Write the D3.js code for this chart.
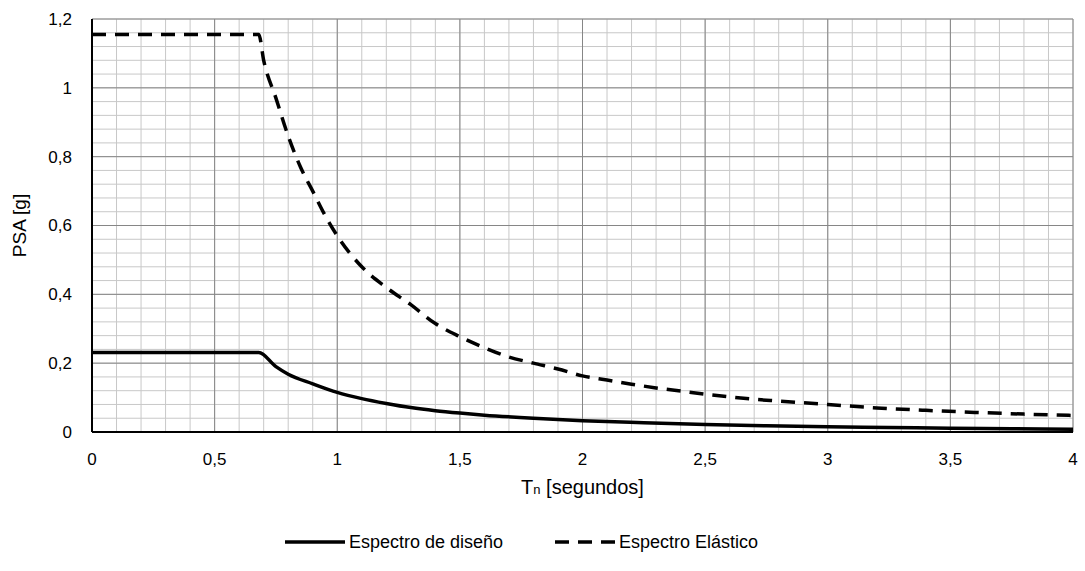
<!DOCTYPE html>
<html>
<head>
<meta charset="utf-8">
<script src="https://cdn.jsdelivr.net/npm/d3@7"></script>
<style>
  body { margin: 0; background: white; }
  text { font-family: "Liberation Sans", Arial, sans-serif; fill: #000; }
</style>
</head>
<body>
<script>

// periods (s) and values
var elastic_T = [0, 0.68, 0.70, 0.75, 0.80, 0.85, 0.90, 0.95, 1.0, 1.1, 1.2, 1.3, 1.4, 1.5, 1.6, 1.7, 1.8, 1.9,
                 2.0, 2.1, 2.2, 2.3, 2.4, 2.5, 2.6, 2.7, 2.8, 2.9, 3.0, 3.2, 3.4, 3.6, 3.8, 4.0];
var elastic_psa = [1.155, 1.155, 1.08, 0.97, 0.86, 0.77, 0.70, 0.63, 0.57, 0.48, 0.42, 0.37, 0.315, 0.277, 0.245, 0.218, 0.200, 0.183,
                   0.163, 0.151, 0.139, 0.128, 0.119, 0.110, 0.102, 0.095, 0.090, 0.085, 0.080, 0.070, 0.063, 0.057, 0.052, 0.048];

var design_T = [0, 0.68, 0.75, 0.80, 0.90, 1.0, 1.1, 1.2, 1.3, 1.4, 1.5, 1.6, 1.8, 2.0, 2.25, 2.5, 2.75, 3.0, 3.25, 3.5, 3.75, 4.0];
var design_psa = [0.231, 0.231, 0.19, 0.168, 0.140, 0.115, 0.097, 0.083, 0.071, 0.062, 0.055, 0.049, 0.040, 0.033, 0.027, 0.022, 0.018, 0.015, 0.013, 0.011, 0.0095, 0.008];

var x_ticks = [0, 0.5, 1, 1.5, 2, 2.5, 3, 3.5, 4];
var y_ticks = [0, 0.2, 0.4, 0.6, 0.8, 1, 1.2];
var series_names = ["Espectro de diseño", "Espectro Elástico"];

var w = 1085, h = 571;
// plot box (note: "top" clashes with window.top, so prefixed names)
var p_left = 92, p_right = 1073, p_top = 19, p_bottom = 432;

var svg = d3.select("body").append("svg").attr("width", w).attr("height", h);

var x = d3.scaleLinear().domain([0, 4]).range([p_left, p_right]);
var y = d3.scaleLinear().domain([0, 1.2]).range([p_bottom, p_top]);

// comma decimals like the original
var fmt = function(d){ return String(d).replace(".", ","); };

// minor grid (0.1 s, 0.04 g)
var minor_x = d3.range(0, 41).map(function(i){ return i/10; });
var minor_y = d3.range(0, 31).map(function(i){ return i*0.04; });

svg.append("g").selectAll("line").data(minor_x).enter().append("line")
   .attr("x1", function(d){ return x(d); }).attr("x2", function(d){ return x(d); })
   .attr("y1", p_top).attr("y2", p_bottom)
   .attr("stroke", "#c8c8c8").attr("stroke-width", 1);
svg.append("g").selectAll("line").data(minor_y).enter().append("line")
   .attr("x1", p_left).attr("x2", p_right)
   .attr("y1", function(d){ return y(d); }).attr("y2", function(d){ return y(d); })
   .attr("stroke", "#c8c8c8").attr("stroke-width", 1);

// major grid
svg.append("g").selectAll("line").data(x_ticks).enter().append("line")
   .attr("x1", function(d){ return x(d); }).attr("x2", function(d){ return x(d); })
   .attr("y1", p_top).attr("y2", p_bottom)
   .attr("stroke", "#868686").attr("stroke-width", 1);
svg.append("g").selectAll("line").data(y_ticks).enter().append("line")
   .attr("x1", p_left).attr("x2", p_right)
   .attr("y1", function(d){ return y(d); }).attr("y2", function(d){ return y(d); })
   .attr("stroke", "#868686").attr("stroke-width", 1);

// axes lines
svg.append("line").attr("x1", p_left).attr("x2", p_left).attr("y1", p_top).attr("y2", p_bottom)
   .attr("stroke", "#000").attr("stroke-width", 2);
svg.append("line").attr("x1", p_left).attr("x2", p_right).attr("y1", p_bottom).attr("y2", p_bottom)
   .attr("stroke", "#000").attr("stroke-width", 2);

// tick labels
svg.append("g").selectAll("text").data(y_ticks).enter().append("text")
   .attr("x", 72).attr("y", function(d){ return y(d); }).attr("dy", "0.35em")
   .attr("text-anchor", "end").attr("font-size", 17).text(fmt);
svg.append("g").selectAll("text").data(x_ticks).enter().append("text")
   .attr("x", function(d){ return x(d); }).attr("y", 459).attr("dy", "0.35em")
   .attr("text-anchor", "middle").attr("font-size", 17).text(fmt);

// axis titles
svg.append("text").attr("transform", "translate(26," + ((p_top + p_bottom)/2) + ") rotate(-90)")
   .attr("text-anchor", "middle").attr("font-size", 19).text("PSA [g]");
var xt = svg.append("text").attr("x", (p_left + p_right)/2).attr("y", 494)
   .attr("text-anchor", "middle").attr("font-size", 20);
xt.append("tspan").text("T");
xt.append("tspan").attr("font-size", 13).text("n");
xt.append("tspan").text(" [segundos]");

// curves
var line = d3.line().x(function(d){ return x(d[0]); }).y(function(d){ return y(d[1]); }).curve(d3.curveMonotoneX);

svg.append("path").datum(d3.zip(design_T, design_psa))
   .attr("d", line).attr("fill", "none").attr("stroke", "#000").attr("stroke-width", 3.5);
svg.append("path").datum(d3.zip(elastic_T, elastic_psa))
   .attr("d", line).attr("fill", "none").attr("stroke", "#000").attr("stroke-width", 3.5)
   .attr("stroke-dasharray", "14,9");

// legend
var leg_y = 542;
svg.append("line").attr("x1", 285).attr("x2", 345).attr("y1", leg_y).attr("y2", leg_y)
   .attr("stroke", "#000").attr("stroke-width", 3.5);
svg.append("text").attr("x", 349).attr("y", leg_y).attr("dy", "0.35em").attr("font-size", 18).text(series_names[0]);
svg.append("line").attr("x1", 555).attr("x2", 615).attr("y1", leg_y).attr("y2", leg_y)
   .attr("stroke", "#000").attr("stroke-width", 3.5).attr("stroke-dasharray", "14,9");
svg.append("text").attr("x", 619).attr("y", leg_y).attr("dy", "0.35em").attr("font-size", 18).text(series_names[1]);

</script>
</body>
</html>
